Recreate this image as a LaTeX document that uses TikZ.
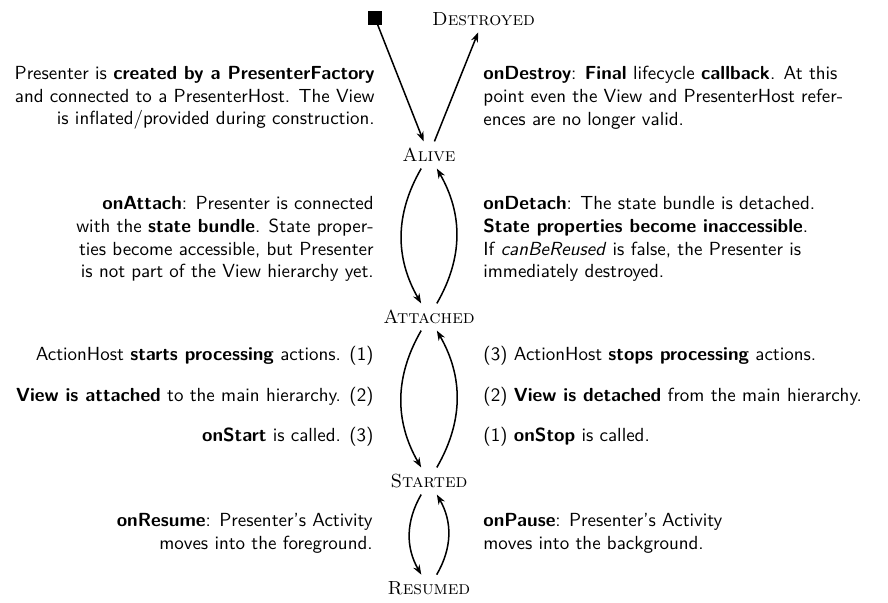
\documentclass[tikz,border=0pt]{standalone}
\usetikzlibrary{arrows.meta}
\begin{document}
\begin{tikzpicture}[x=0.5275pt,y=-0.5275pt,
  state/.style={font=\normalfont, inner sep=3.33pt},
  desc/.style={font=\sffamily, inner sep=0pt},
  descl/.style={desc, align=right, anchor=east},
  descr/.style={desc, align=left, anchor=west},
  trans/.style={thick, -{Stealth[length=5.2pt,width=3.8pt]}},
  ]
\useasboundingbox (0,0) rectangle (888,603);
% states
\node[fill=black, minimum size=7pt, inner sep=0pt] (init) at (375,18) {};
\node[state] (destroyed) at (483.5,19) {\textsc{Destroyed}};
\node[state] (alive) at (429,155) {\textsc{Alive}};
\node[state] (attached) at (429,317) {\textsc{Attached}};
\node[state] (started) at (429,481) {\textsc{Started}};
\node[state] (resumed) at (429,588) {\textsc{Resumed}};
% transitions
\draw[trans] (init) -- (alive);
\draw[trans] (alive) -- (destroyed);
\draw[trans] (alive) to[bend right=30] (attached);
\draw[trans] (attached) to[bend right=30] (alive);
\draw[trans] (attached) to[bend right=30] (started);
\draw[trans] (started) to[bend right=30] (attached);
\draw[trans] (started) to[bend right=30] (resumed);
\draw[trans] (resumed) to[bend right=30] (started);
% descriptions
\node[descl] (t1l) at (375,98) {Presenter is \textbf{created by a PresenterFactory}\\
  and connected to a PresenterHost. The View\\
  is inflated/provided during construction.};
\node[descr] (t1r) at (483,98) {\textbf{onDestroy}: \textbf{Final} lifecycle \textbf{callback}. At this\\
  point even the View and PresenterHost refer-\\
  ences are no longer valid.};
\node[descl] (t2l) at (374,239) {\textbf{onAttach}: Presenter is connected\\
  with the \textbf{state bundle}. State proper-\\
  ties become accessible, but Presenter\\
  is not part of the View hierarchy yet.};
\node[descr] (t2r) at (483,239) {\textbf{onDetach}: The state bundle is detached.\\
  \textbf{State properties become inaccessible}.\\
  If \textit{canBeReused} is false, the Presenter is\\
  immediately destroyed.};
\node[descl] (t3l1) at (374,356) {ActionHost \textbf{starts processing} actions. (1)};
\node[descl] (t3l2) at (374,397) {\textbf{View is attached} to the main hierarchy. (2)};
\node[descl] (t3l3) at (374,437) {\textbf{onStart} is called. (3)};
\node[descr] (t3r1) at (483,356) {(3) ActionHost \textbf{stops processing} actions.};
\node[descr] (t3r2) at (483,397) {(2) \textbf{View is detached} from the main hierarchy.};
\node[descr] (t3r3) at (483,437) {(1) \textbf{onStop} is called.};
\node[descl] (t4l) at (373,533.5) {\textbf{onResume}: Presenter's Activity\\
  moves into the foreground.};
\node[descr] (t4r) at (483,533.5) {\textbf{onPause}: Presenter's Activity\\
  moves into the background.};
\end{tikzpicture}
\end{document}
